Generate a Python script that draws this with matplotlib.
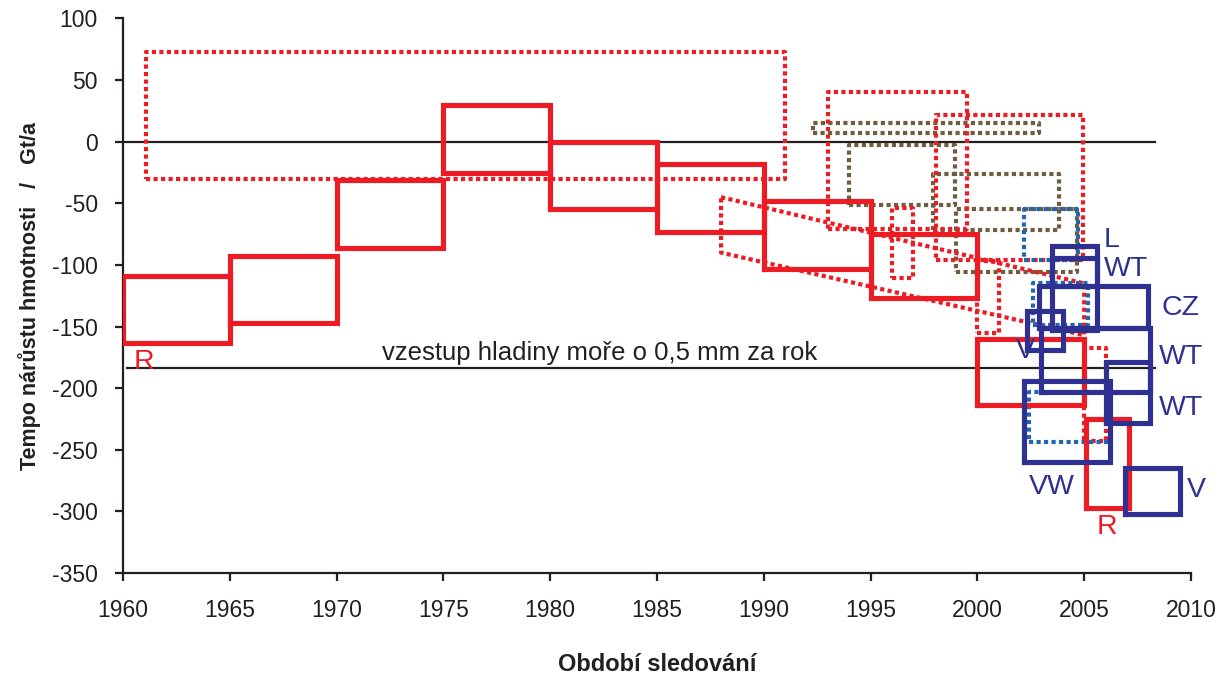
import matplotlib
matplotlib.use("Agg")
import matplotlib.pyplot as plt

plt.rcParams['font.family'] = ['Liberation Sans', 'DejaVu Sans']
plt.rcParams['axes.unicode_minus'] = False

# boxes: (start year, end year, low rate, high rate) in Gt/a
red_solid = [(1960, 1965, -163, -109), (1965, 1970, -147, -93), (1970, 1975, -86, -31),
             (1975, 1980, -25, 30), (1980, 1985, -55, 0), (1985, 1990, -73, -18),
             (1990, 1995, -103, -48), (1995, 2000, -127, -75), (2000, 2005, -214, -160),
             (2005.1, 2007.1, -297, -225)]
red_dotted = [(1961.1, 1991.0, -30, 73), (1993.0, 1999.5, -71, 40), (1998.05, 2004.95, -96, 22),
              (1996.0, 1997.0, -111, -54), (2000.0, 2001.0, -155, -97), (2005.0, 2006.0, -243, -167)]
# slanted estimate (parallelogram corners)
slant_x = [1988, 2005, 2005, 1988, 1988]
slant_y = [-45, -115, -157, -90, -45]
brown_dotted = [(1992.3, 2002.9, 7, 15), (1994.0, 1998.95, -51, -3),
                (1997.9, 2003.8, -72, -26), (1999.0, 2004.65, -106, -55)]
blue_dotted = [(2002.2, 2004.7, -96, -55), (2002.6, 2005.2, -149, -115), (2002.4, 2006.2, -244, -203)]
navy_solid = [(2003.5, 2005.6, -117, -85), (2003.5, 2005.6, -153, -94), (2002.9, 2008.0, -151, -117),
              (2003.0, 2008.1, -203, -151), (2006.0, 2008.1, -228, -179), (2002.3, 2004.0, -169, -137),
              (2002.2, 2006.2, -260, -194), (2006.9, 2009.5, -302, -265)]

navy_labels = ["L", "WT", "CZ", "V", "WT", "WT", "VW", "V"]
navy_label_x = [2005.9, 2005.9, 2008.6, 2001.8, 2008.5, 2008.5, 2002.4, 2009.8]
navy_label_y = [-80, -103, -135, -170, -175, -216, -280, -283]
red_labels = ["R", "R"]
red_label_x = [1960.5, 2005.6]
red_label_y = [-179, -313]

sea_level = -184
sea_text = "vzestup hladiny moře o 0,5 mm za rok"

RED = "#ed1c24"
NAVY = "#2e3192"
BROWN = "#6e5e3e"
BLUE = "#1f66b3"
INK = "#231f20"


def box(ax, b, color, lw, dotted=False, z=2):
    x0, x1, y0, y1 = b
    ls = (0, (1, 0.8)) if dotted else "-"
    ax.plot([x0, x1, x1, x0, x0], [y0, y0, y1, y1, y0], color=color, lw=lw,
            ls=ls, solid_joinstyle="miter", dash_capstyle="butt", zorder=z)


fig = plt.figure(figsize=(12.31, 6.77), dpi=100)
ax = fig.add_axes([0.0999, 0.1536, 0.8676, 0.8191])

ax.axhline(0, xmin=0, xmax=0.966, color=INK, lw=1.6, zorder=1)
ax.plot([1960.2, 2008.3], [sea_level, sea_level], color=INK, lw=1.6, zorder=1)
ax.text(1982.3, sea_level + 3, sea_text, fontsize=18.5, ha="center", va="bottom", color=INK)

for b in brown_dotted:
    box(ax, b, BROWN, 3.0, dotted=True)
for b in red_dotted:
    box(ax, b, RED, 3.0, dotted=True)
ax.plot(slant_x, slant_y, color=RED, lw=3.0, ls=(0, (1, 0.8)), zorder=2)
for b in blue_dotted:
    box(ax, b, BLUE, 3.0, dotted=True)
for b in red_solid:
    box(ax, b, RED, 3.7, z=3)
for b in navy_solid:
    box(ax, b, NAVY, 3.7, z=4)

for t, x, y in zip(navy_labels, navy_label_x, navy_label_y):
    ax.text(x, y, t, color=NAVY, fontsize=20.5, ha="left", va="center")
for t, x, y in zip(red_labels, red_label_x, red_label_y):
    ax.text(x, y, t, color=RED, fontsize=20.5, ha="left", va="center")

ax.set_xlim(1960, 2010)
ax.set_ylim(-350, 100)
ax.set_xticks(range(1960, 2011, 5))
ax.set_yticks(range(-350, 101, 50))
for s in ["top", "right"]:
    ax.spines[s].set_visible(False)
for s in ["left", "bottom"]:
    ax.spines[s].set_linewidth(1.6)
    ax.spines[s].set_color(INK)
ax.tick_params(axis="x", length=6, width=1.6, pad=13, labelsize=16.5, colors=INK)
ax.tick_params(axis="y", length=6, width=1.6, pad=12, labelsize=16.5, colors=INK)

ax.set_xlabel("Období sledování", fontsize=17, fontweight="bold", labelpad=22, color=INK)
ax.set_ylabel("Tempo nárůstu hmotnosti   /   Gt/a", fontsize=15.5, fontweight="bold",
              labelpad=8, color=INK)

fig.savefig("out.png", dpi=100)
